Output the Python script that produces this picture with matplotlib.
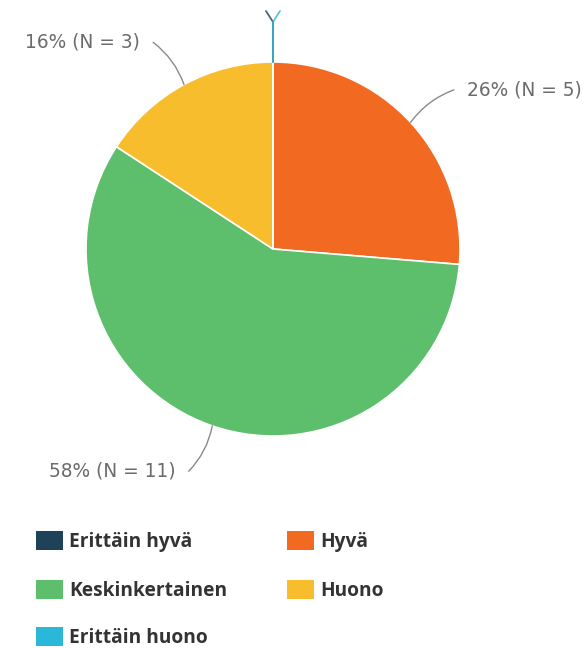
import numpy as np
import matplotlib.pyplot as plt
from matplotlib.patches import Rectangle

categories = ["Erittäin hyvä", "Hyvä", "Keskinkertainen", "Huono", "Erittäin huono"]
counts = [0, 5, 11, 3, 0]
colors = ["#1e4258", "#f26a22", "#5dbe6b", "#f8bd2c", "#2bb7d8"]

W, H = 585, 648
fig = plt.figure(figsize=(W / 100, H / 100), dpi=100)
ax = fig.add_axes([0, 0, 1, 1])

cx, cy, r = 273, H - 249, 187
wedges, _ = ax.pie(counts, colors=colors, startangle=90, counterclock=False,
                   center=(cx, cy), radius=r, frame=True,
                   wedgeprops=dict(edgecolor="white", linewidth=1.2))
ax.set_xlim(0, W)
ax.set_ylim(0, H)
ax.set_aspect("equal")
ax.axis("off")

total = sum(counts)
label_font = dict(family="DejaVu Sans", fontsize=13.4, color="#6b6b6b")
lead = 48   # leader reach beyond the rim
side_step = 8
gap = 13    # space between leader end and label

for w, n, col in zip(wedges, counts, colors):
    mid = np.deg2rad((w.theta1 + w.theta2) / 2)
    dx, dy = np.cos(mid), np.sin(mid)
    ex, ey = cx + r * dx, cy + r * dy
    if n == 0:
        # zero-size segments: short leader straight up from the rim
        side = -1 if col == colors[0] else 1
        ax.plot([ex, ex, ex + side * 7], [ey, H - 22, H - 11],
                color=col, lw=1.3, alpha=0.8, solid_capstyle="round", zorder=3)
        continue
    pct = round(100 * n / total)
    txt = f"{pct}% (N = {n})"
    sgn = 1 if dx >= 0 else -1
    lx = cx + (r + lead) * dx + sgn * side_step
    ly = cy + (r + lead) * dy
    ha = "left" if sgn > 0 else "right"
    tx = lx + sgn * gap
    rad = 0.15 if ha == "left" else -0.15
    if dy < 0:
        rad = -rad
    ax.annotate("", xy=(ex, ey), xytext=(lx, ly),
                arrowprops=dict(arrowstyle="-", color="#8a8a8a", lw=1.0,
                                connectionstyle=f"arc3,rad={rad}",
                                shrinkA=0, shrinkB=0))
    ax.text(tx, ly, txt, ha=ha, va="center", **label_font)

# legend grid, two columns
col_x = [36, 287]
row_y = [541, 590, 637]
for i, (name, col) in enumerate(zip(categories, colors)):
    x0 = col_x[i % 2]
    y0 = H - row_y[i // 2]
    ax.add_patch(Rectangle((x0, y0 - 9), 27, 19, facecolor=col, edgecolor="none"))
    ax.text(x0 + 33, y0 - 1, name, ha="left", va="center", family="Open Sans",
            fontweight="bold", fontsize=13.8, color="#333333")

fig.savefig("out.png", dpi=100)
